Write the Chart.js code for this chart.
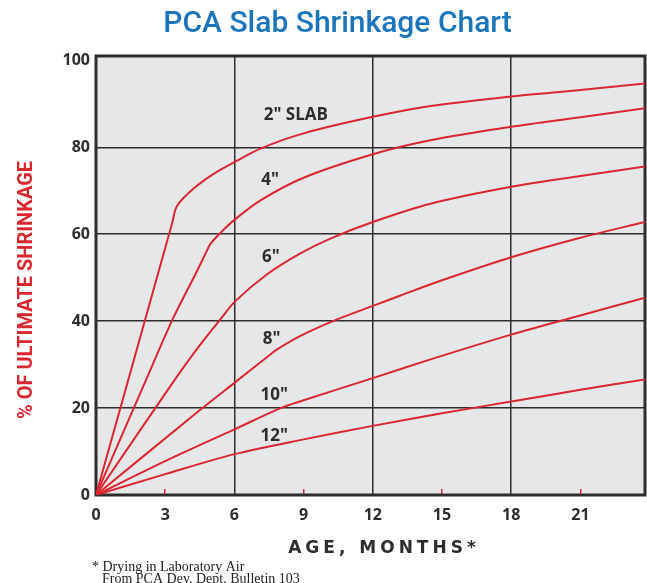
<!DOCTYPE html>
<html>
<head>
<meta charset="utf-8">
<script src="https://cdn.jsdelivr.net/npm/chart.js@4.4.1/dist/chart.umd.min.js"></script>
<style>
  html, body { margin: 0; padding: 0; background: #fff; }
  #wrap { width: 647px; height: 583px; }
</style>
</head>
<body>
<div id="wrap"><canvas id="slab_shrinkage"></canvas></div>
<script>
// values (age in months, % of ultimate shrinkage)
const months_2in = [0, 3.3, 3.51, 4.23, 5.1, 6, 7.13, 9, 12, 14.5, 18, 21, 23.8];
const pct_2in    = [0, 62.5, 66.5, 70.5, 73.9, 76.6, 79.7, 83.2, 87.0, 89.5, 91.7, 93.2, 94.7];

const months_4in = [0, 2.17, 3.32, 4.31, 4.8, 4.96, 5.47, 6, 7.13, 9, 12, 14.5, 18, 21, 23.8];
const pct_4in    = [0, 26.5, 40.4, 50.8, 56.1, 57.8, 60.7, 63.3, 67.8, 73.0, 78.4, 81.6, 84.7, 86.9, 89.0];

const months_6in = [0, 3.41, 4.52, 5.39, 6.04, 7.42, 8.86, 10.16, 12, 14.5, 18, 21, 23.8];
const pct_6in    = [0, 26.5, 34.6, 40.4, 44.6, 50.8, 55.6, 59.0, 62.8, 67.0, 70.9, 73.4, 75.6];

const months_8in = [0, 4.52, 6, 7.6, 7.85, 8.86, 10.45, 12, 13.2, 15, 18, 21, 23.8];
const pct_8in    = [0, 19.6, 25.8, 32.5, 33.5, 36.6, 40.4, 43.5, 45.9, 49.4, 54.7, 59.2, 62.8];

const months_10in = [0, 3, 6, 8, 9, 12, 14.5, 18, 21, 23.8];
const pct_10in    = [0, 7.8, 15.1, 20.0, 21.8, 26.9, 31.2, 36.9, 41.3, 45.4];

const months_12in = [0, 3, 6, 9, 12, 15, 18, 21, 23.8];
const pct_12in    = [0, 4.8, 9.4, 12.8, 15.9, 18.8, 21.5, 24.2, 26.6];

const slabNames = ['2" SLAB', '4"', '6"', '8"', '10"', '12"'];
// where each slab name sits on the chart (month, %)
const nameMonths = [7.27, 7.16, 7.2, 7.23, 7.13, 7.13];
const namePcts   = [87.35, 72.55, 54.7, 35.8, 22.9, 13.6];

const monthTicks = [0, 3, 6, 9, 12, 15, 18, 21];
const monthGrid = [6, 12, 18];
const monthMarks = [3, 9, 15, 21];
const pctTicks = [0, 20, 40, 60, 80, 100];

const RED = '#DA2630';
const DARK = '#2E2C2D';
const NONE = 'rgba(0,0,0,0)';

function createData(xValues, yValues) {
    return xValues.map((x, i) => ({ x: x, y: yValues[i] }));
}

function slabSet(label, xs, ys) {
    return {
        label: label,
        data: createData(xs, ys),
        borderColor: RED,
        borderWidth: 2,
        pointRadius: 0,
        tension: 0.3,
        fill: false
    };
}

const slabExtras = {
    id: 'slabExtras',
    beforeDraw(chart) {
        const { ctx, chartArea: a } = chart;
        ctx.save();
        ctx.fillStyle = '#E6E7E8';
        ctx.fillRect(a.left, a.top, a.right - a.left, a.bottom - a.top);
        ctx.restore();
    },
    beforeDatasetsDraw(chart) {
        const { ctx, chartArea: a } = chart;
        ctx.save();
        ctx.strokeStyle = DARK;
        ctx.lineWidth = 3;
        ctx.strokeRect(a.left, a.top, a.right - a.left, a.bottom - a.top);
        ctx.restore();
    },
    afterDatasetsDraw(chart) {
        const { ctx, scales } = chart;
        ctx.save();
        ctx.fillStyle = DARK;
        ctx.font = '700 17px "Open Sans"';
        ctx.textAlign = 'left';
        ctx.textBaseline = 'middle';
        slabNames.forEach((name, i) => {
            ctx.fillText(name, scales.x.getPixelForValue(nameMonths[i]), scales.y.getPixelForValue(namePcts[i]));
        });
        ctx.restore();
    },
    afterDraw(chart) {
        const ctx = chart.ctx;
        ctx.save();
        // y axis title
        ctx.translate(27, 290);
        ctx.rotate(-Math.PI / 2);
        ctx.fillStyle = RED;
        ctx.font = '700 20px Roboto';
        ctx.textAlign = 'center';
        ctx.textBaseline = 'middle';
        ctx.fillText('% OF ULTIMATE SHRINKAGE', 0, 0);
        ctx.restore();

        // x axis title, wide lettering
        ctx.save();
        ctx.fillStyle = DARK;
        ctx.font = 'bold 17px "DejaVu Sans"';
        ctx.letterSpacing = '4px';
        ctx.textBaseline = 'middle';
        ctx.textAlign = 'left';
        const t = 'AGE, MONTHS*';
        const w = ctx.measureText(t).width - 4;
        ctx.fillText(t, 382 - w / 2, 549);
        ctx.restore();

        // footnote
        ctx.save();
        ctx.fillStyle = '#222';
        ctx.font = '14px "Liberation Serif"';
        ctx.textAlign = 'left';
        ctx.textBaseline = 'alphabetic';
        ctx.fillText('* Drying in Laboratory Air', 92, 571);
        ctx.fillText('From PCA Dev. Dept. Bulletin 103', 102, 583);
        ctx.restore();
    }
};

Chart.defaults.font.family = '"Open Sans"';

const ctx1 = document.getElementById('slab_shrinkage').getContext('2d');

const slab_chart = new Chart(ctx1, {
    type: 'line',
    data: {
        datasets: [
            slabSet('2" slab', months_2in, pct_2in),
            slabSet('4" slab', months_4in, pct_4in),
            slabSet('6" slab', months_6in, pct_6in),
            slabSet('8" slab', months_8in, pct_8in),
            slabSet('10" slab', months_10in, pct_10in),
            slabSet('12" slab', months_12in, pct_12in)
        ]
    },
    plugins: [slabExtras],
    options: {
        responsive: true,
        maintainAspectRatio: false,
        animation: false,
        layout: { padding: { left: 30, right: 2, top: 0, bottom: 0 } },
        scales: {
            x: {
                type: 'linear',
                min: 0,
                max: 23.8,
                afterBuildTicks: (axis) => { axis.ticks = monthTicks.map(v => ({ value: v })); },
                afterFit: (axis) => { axis.height = 88; },
                border: { display: false },
                grid: {
                    color: (c) => (c.tick && monthGrid.includes(c.tick.value)) ? DARK : NONE,
                    lineWidth: 1.5,
                    tickColor: (c) => (c.tick && monthMarks.includes(c.tick.value)) ? RED : NONE,
                    tickWidth: 1.5,
                    tickLength: -6
                },
                ticks: {
                    color: DARK,
                    padding: 17,
                    maxRotation: 0,
                    font: { size: 16, weight: '700' }
                }
            },
            y: {
                min: 0,
                max: 101,
                afterBuildTicks: (axis) => { axis.ticks = pctTicks.map(v => ({ value: v })); },
                afterFit: (axis) => { axis.width = 66; },
                border: { display: false },
                grid: {
                    color: (c) => (c.tick && c.tick.value > 0 && c.tick.value < 100) ? DARK : NONE,
                    lineWidth: 1.5,
                    drawTicks: false
                },
                ticks: {
                    color: DARK,
                    padding: 6,
                    font: { size: 16, weight: '700' }
                }
            }
        },
        plugins: {
            legend: { display: false },
            tooltip: { enabled: false },
            title: {
                display: true,
                text: 'PCA Slab Shrinkage Chart',
                color: '#1B75BB',
                font: { family: 'Roboto', size: 30, weight: '500' },
                padding: { top: 6, bottom: 14 }
            }
        }
    }
});
</script>
</body>
</html>
